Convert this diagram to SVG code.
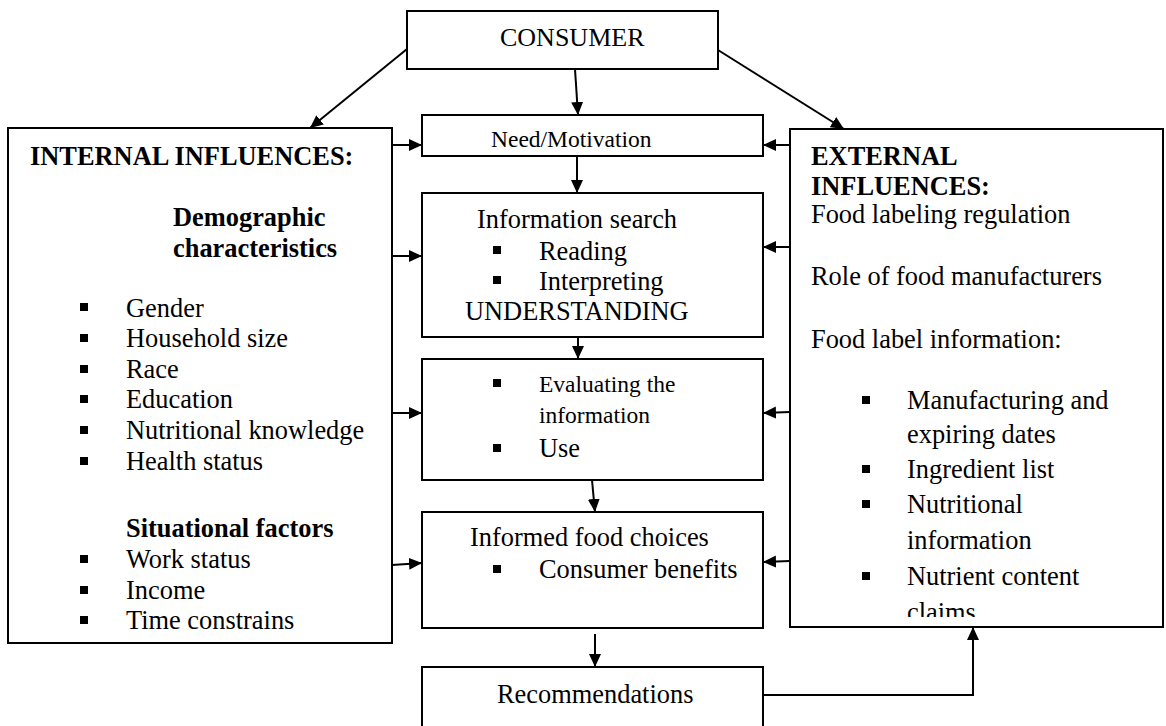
<svg xmlns="http://www.w3.org/2000/svg" width="1166" height="726" viewBox="0 0 1166 726">
  <style>
    .box { fill: #fff; stroke: #000; stroke-width: 2; }
    .t { font-family: "Liberation Serif", "Times New Roman", serif; font-size: 26.4px; fill: #000; }
    .s { font-size: 23.5px; }
    .b { font-weight: bold; }
    .bul { fill: #000; }
    .conn line, .conn polyline { stroke: #000; stroke-width: 2; fill: none; marker-end: url(#ah); }
  </style>
  <defs>
    <marker id="ah" markerUnits="userSpaceOnUse" markerWidth="14" markerHeight="14" viewBox="0 0 14 14" refX="13" refY="7" orient="auto">
      <path d="M0,1 L13,7 L0,13 Z" fill="#000"/>
    </marker>
    <clipPath id="extClip">
      <rect x="790" y="129" width="373" height="488"/>
    </clipPath>
  </defs>
  <rect width="1166" height="726" fill="#fff"/>

  <g id="consumer">
    <rect class="box" x="407" y="11" width="311" height="58"/>
    <text class="t" x="500" y="46" style="font-size:26px">CONSUMER</text>
  </g>

  <g id="internal">
    <rect class="box" x="8" y="128" width="384" height="515"/>
    <text class="t b" x="30" y="165">INTERNAL INFLUENCES:</text>
    <text class="t b" x="173" y="226">Demographic</text>
    <text class="t b" x="173" y="257">characteristics</text>
    <rect class="bul" x="80" y="303" width="8" height="8"/>
    <text class="t" x="126" y="317">Gender</text>
    <rect class="bul" x="80" y="334" width="8" height="8"/>
    <text class="t" x="126" y="347">Household size</text>
    <rect class="bul" x="80" y="365" width="8" height="8"/>
    <text class="t" x="126" y="378">Race</text>
    <rect class="bul" x="80" y="395" width="8" height="8"/>
    <text class="t" x="126" y="408">Education</text>
    <rect class="bul" x="80" y="426" width="8" height="8"/>
    <text class="t" x="126" y="439">Nutritional knowledge</text>
    <rect class="bul" x="80" y="457" width="8" height="8"/>
    <text class="t" x="126" y="470">Health status</text>
    <text class="t b" x="126" y="537">Situational factors</text>
    <rect class="bul" x="80" y="555" width="8" height="8"/>
    <text class="t" x="126" y="568">Work status</text>
    <rect class="bul" x="80" y="586" width="8" height="8"/>
    <text class="t" x="126" y="599">Income</text>
    <rect class="bul" x="80" y="616" width="8" height="8"/>
    <text class="t" x="126" y="629">Time constrains</text>
  </g>

  <g id="need">
    <rect class="box" x="422" y="115" width="341" height="41"/>
    <text class="t s" x="491" y="147">Need/Motivation</text>
  </g>

  <g id="search">
    <rect class="box" x="422" y="193" width="341" height="144"/>
    <text class="t" x="477" y="228">Information search</text>
    <rect class="bul" x="493" y="246" width="8" height="8"/>
    <text class="t" x="539" y="260">Reading</text>
    <rect class="bul" x="493" y="276" width="8" height="8"/>
    <text class="t" x="539" y="290">Interpreting</text>
    <text class="t" x="465" y="320">UNDERSTANDING</text>
  </g>

  <g id="evaluate">
    <rect class="box" x="422" y="359" width="341" height="121"/>
    <rect class="bul" x="493" y="379" width="8" height="8"/>
    <text class="t s" x="539" y="392">Evaluating the</text>
    <text class="t s" x="539" y="423">information</text>
    <rect class="bul" x="493" y="444" width="8" height="8"/>
    <text class="t" x="539" y="457">Use</text>
  </g>

  <g id="choices">
    <rect class="box" x="422" y="512" width="341" height="116"/>
    <text class="t" x="470" y="546">Informed food choices</text>
    <rect class="bul" x="493" y="565" width="8" height="8"/>
    <text class="t" x="539" y="578">Consumer benefits</text>
  </g>

  <g id="recommendations">
    <rect class="box" x="422" y="667" width="341" height="60"/>
    <text class="t" x="497" y="703">Recommendations</text>
  </g>

  <g id="external">
    <rect class="box" x="790" y="129" width="373" height="498"/>
    <g clip-path="url(#extClip)">
      <text class="t b" x="811" y="165">EXTERNAL</text>
      <text class="t b" x="811" y="195">INFLUENCES:</text>
      <text class="t" x="811" y="223">Food labeling regulation</text>
      <text class="t" x="811" y="285">Role of food manufacturers</text>
      <text class="t" x="811" y="348">Food label information:</text>
      <rect class="bul" x="862" y="396" width="8" height="8"/>
      <text class="t" x="907" y="409">Manufacturing and</text>
      <text class="t" x="907" y="443">expiring dates</text>
      <rect class="bul" x="862" y="465" width="8" height="8"/>
      <text class="t" x="907" y="478">Ingredient list</text>
      <rect class="bul" x="862" y="500" width="8" height="8"/>
      <text class="t" x="907" y="513">Nutritional</text>
      <text class="t" x="907" y="549">information</text>
      <rect class="bul" x="862" y="572" width="8" height="8"/>
      <text class="t" x="907" y="585">Nutrient content</text>
      <text class="t" x="907" y="621">claims</text>
    </g>
  </g>

  <g id="connectors" class="conn">
    <!-- from the consumer -->
    <line x1="407" y1="49" x2="310" y2="128"/>
    <line x1="575" y1="69" x2="578" y2="115"/>
    <line x1="718" y1="50" x2="844" y2="129"/>
    <!-- internal influences into the process -->
    <line x1="392" y1="145" x2="422" y2="145"/>
    <line x1="392" y1="256" x2="422" y2="256"/>
    <line x1="392" y1="413" x2="422" y2="413"/>
    <line x1="392" y1="565" x2="422" y2="563"/>
    <!-- external influences into the process -->
    <line x1="790" y1="145" x2="763" y2="145"/>
    <line x1="790" y1="247" x2="763" y2="247"/>
    <line x1="790" y1="412" x2="763" y2="413"/>
    <line x1="790" y1="561" x2="763" y2="562"/>
    <!-- process chain -->
    <line x1="577" y1="156" x2="577" y2="193"/>
    <line x1="578" y1="337" x2="578" y2="359"/>
    <line x1="592" y1="480" x2="595" y2="512"/>
    <line x1="595" y1="634" x2="595" y2="667"/>
    <!-- feedback to external influences -->
    <polyline points="763,695 973,695 973,627"/>
  </g>
</svg>
